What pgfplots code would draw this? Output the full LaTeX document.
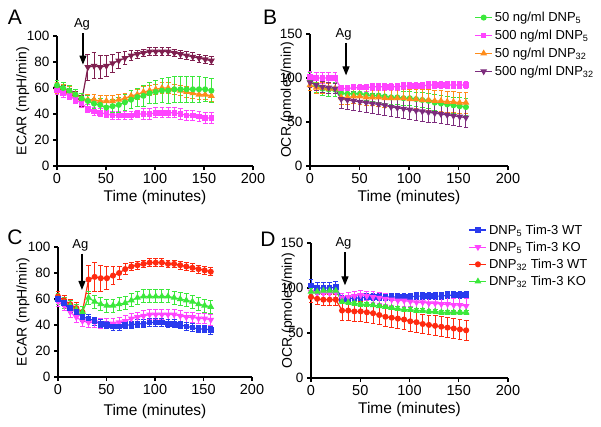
\documentclass[border=0pt]{standalone}
\usepackage{fontspec}
\setmainfont{Liberation Sans}
\usepackage{pgfplots}
\usepackage{pgfplotstable}
\pgfplotsset{compat=1.18}
\usetikzlibrary{arrows.meta}

\definecolor{cG}{HTML}{3BE83B}
\definecolor{cM}{HTML}{FF44FF}
\definecolor{cO}{HTML}{FF8C1A}
\definecolor{cW}{HTML}{7F1F4F}
\definecolor{cP}{HTML}{7D2C7D}
\definecolor{cB}{HTML}{2A3BEE}
\definecolor{cR}{HTML}{FF2A10}

\pgfplotstableread{
t g ge m me o oe p pe
0 62 4 58 3 60 4 60 4
6.3 60 4 56 3 59 4 58 4
12.6 58 4 54 3 57 4 56 4
18.9 55 4 51 3 55 4 53 4
25.2 52 4 48 3 52 4 50 4
31.5 50 4 44 3 51 4 76 10
37.8 48 4 42 3 51 4 77 10
44.1 47 5 41 3 50 4 76 9
50.4 45 5 40 3 50 4 77 8
56.7 46 5 39 3 50 4 79 7
63 47 6 39 3 51 4 81 6
69.3 49 6 39 3 52 4 83 5
75.6 51 7 39 3 54 4 85 4
81.9 53 7 40 3 55 4 86 3
88.2 54 8 40 4 57 4 87 3
94.5 56 8 40 4 58 4 88 3
100.8 57 9 41 4 59 4 88 3
107.1 58 9 41 4 60 4 88 3
113.4 58 10 41 4 60 4 88 3
119.7 59 10 41 4 59 4 87 3
126 59 10 40 4 58 4 86 3
132.3 59 10 39 4 57 4 85 3
138.6 59 10 39 4 56 4 84 3
144.9 59 10 38 4 55 4 83 3
151.2 59 9 37 4 55 4 82 3
157.5 58 9 37 4 54 4 81 3
}\tabA

\pgfplotstableread{
t g ge m me o oe p pe
0 98 8 101 6 92 6 95 6
6.3 92 8 100 6 89 6 92 6
12.6 88 8 100 6 89 6 90 6
18.9 87 8 100 6 88 6 89 6
25.2 87 8 100 6 88 6 88 6
31.5 83 7 88 4 78 8 76 11
37.8 82 7 88 4 78 8 75 11
44.1 82 7 89 4 79 8 74 11
50.4 82 7 89 4 79 9 73 11
56.7 81 7 89 4 78 9 72 11
63 80 7 90 4 78 9 71 11
69.3 80 8 90 4 78 10 70 11
75.6 79 8 90 4 77 10 69 11
81.9 78 8 90 4 77 10 67 11
88.2 78 8 90 4 77 11 66 11
94.5 77 8 91 4 77 11 65 11
100.8 77 8 91 4 76 11 64 11
107.1 76 8 91 4 76 11 63 11
113.4 75 9 91 4 75 12 62 11
119.7 74 9 92 4 75 12 61 11
126 72 9 92 4 74 12 60 11
132.3 71 9 92 4 74 12 59 11
138.6 70 9 92 4 73 12 58 11
144.9 69 9 92 4 73 12 57 11
151.2 68 10 92 4 72 12 56 11
157.5 67 10 92 4 72 12 55 11
}\tabB

\pgfplotstableread{
t b be m me r re g ge
0 60 3 58 4 62 4 60 4
6.3 57 3 55 4 59 4 57 4
12.6 53 3 50 4 56 4 55 4
18.9 50 3 46 4 53 4 52 4
25.2 46 3 43 4 50 4 50 4
31.5 45 3 42 4 75 11 61 5
37.8 43 3 42 4 77 11 58 5
44.1 41 3 41 4 76 10 56 5
50.4 40 3 41 4 76 9 55 5
56.7 39 3 41 4 78 7 55 5
63 39 3 42 4 80 5 56 5
69.3 40 3 43 4 83 4 57 5
75.6 40 3 45 4 85 3 59 5
81.9 41 3 46 4 86 3 61 5
88.2 41 3 47 4 87 3 62 5
94.5 42 3 48 4 88 3 62 5
100.8 42 3 48 4 88 3 62 5
107.1 42 3 48 4 88 3 62 5
113.4 41 3 48 4 87 3 62 5
119.7 41 3 48 4 87 3 61 5
126 40 3 47 4 86 3 60 5
132.3 39 3 46 4 85 3 59 5
138.6 38 3 46 4 84 3 58 5
144.9 37 3 45 4 83 3 56 5
151.2 37 3 45 4 82 3 55 5
157.5 36 3 44 4 81 3 54 5
}\tabC

\pgfplotstableread{
t b be m me r re g ge
0 103 6 96 6 90 6 96 3
6.3 100 6 94 6 88 6 96 3
12.6 100 6 94 6 87 6 97 3
18.9 100 6 94 6 87 6 97 3
25.2 101 6 95 6 87 6 97 3
31.5 88 4 89 5 75 11 85 2
37.8 88 4 90 5 75 11 84 2
44.1 89 4 91 5 74 11 83 2
50.4 89 4 92 5 74 11 82 2
56.7 90 4 91 5 73 11 82 2
63 90 4 90 6 72 11 81 2
69.3 90 4 89 6 70 11 80 2
75.6 90 4 88 6 68 11 79 2
81.9 90 4 87 6 67 11 78 2
88.2 90 4 86 6 66 11 77 2
94.5 90 4 86 6 65 11 76 2
100.8 90 4 85 6 63 11 76 2
107.1 91 4 84 7 62 11 75 2
113.4 91 4 84 7 60 11 75 2
119.7 91 4 83 7 59 11 74 2
126 91 4 83 7 58 11 74 2
132.3 91 4 82 7 57 11 73 2
138.6 92 4 82 7 56 11 73 2
144.9 92 4 81 7 55 11 73 2
151.2 92 4 81 8 54 11 73 2
157.5 92 4 80 8 53 11 73 2
}\tabD

\pgfplotsset{
  panel/.style={
    scale only axis, axis lines=left, enlargelimits=false, clip=false,
    axis line style={-, line width=1.7pt},
    tick align=outside, major tick length=4pt,
    every tick/.style={line width=1.3pt, black},
    xmin=0, xmax=200, xtick={0,50,100,150,200},
    yticklabel style={font=\fontsize{13.5}{15}\selectfont},
    xticklabel style={font=\fontsize{14.5}{16}\selectfont},
    xlabel style={font=\fontsize{15.5}{17}\selectfont},
    ylabel style={font=\fontsize{14}{16}\selectfont},
    /pgf/number format/assume math mode=true,
    xlabel={Time (minutes)},
    every axis plot/.append style={line width=1.2pt},
    error bars/error bar style={line width=0.9pt},
    error bars/error mark options={rotate=90, mark size=2.4pt, line width=0.9pt},
    legend style={draw=none, fill=none, font=\fontsize{13}{15}\selectfont, row sep=3pt,
      legend cell align=left, inner sep=1pt},
  },
  ebar/.style={error bars/.cd, y dir=both, y explicit},
}

\begin{document}
\begin{tikzpicture}
\path[use as bounding box] (0pt,0pt) rectangle (601pt,-426pt);

% Panel A
\begin{axis}[panel, at={(57pt,-166pt)}, anchor=south west, width=196pt, height=130pt,
  ymin=0, ymax=100, ytick={0,20,40,60,80,100},
  ylabel={ECAR (mpH/min)},
  ylabel style={at={(axis description cs:-0.175,0.5)}, anchor=center},
  xlabel style={at={(axis description cs:0.5,-0.245)}, anchor=center}]
\addplot[color=cW, mark=triangle*, mark options={rotate=180}, mark size=2.8pt, ebar] table[x=t,y=p,y error=pe]{\tabA};
\addplot[color=cO, mark=triangle*, mark size=2.8pt, ebar] table[x=t,y=o,y error=oe]{\tabA};
\addplot[color=cM, mark=square*, mark size=2.2pt, ebar] table[x=t,y=m,y error=me]{\tabA};
\addplot[color=cG, mark=*, mark size=2.4pt, ebar] table[x=t,y=g,y error=ge]{\tabA};
\draw[-{Triangle[length=9pt,width=7pt]}, line width=1.2pt] (axis cs:26.5,102) -- (axis cs:26.5,78);
\node[font=\fontsize{13}{15}\selectfont] at (axis cs:25.5,109) {Ag};
\end{axis}

% Panel B
\begin{axis}[panel, at={(310pt,-166pt)}, anchor=south west, width=198pt, height=132pt,
  ymin=0, ymax=150, ytick={0,50,100,150},
  ylabel={OCR (pmoles/min)},
  ylabel style={at={(axis description cs:-0.115,0.5)}, anchor=center},
  xlabel style={at={(axis description cs:0.5,-0.235)}, anchor=center},
  legend style={at={(axis description cs:0.825,1.19)}, anchor=north west}]
\addplot[color=cG, mark=*, mark size=2.4pt, ebar] table[x=t,y=g,y error=ge]{\tabB};
\addlegendentry{50 ng/ml DNP\textsubscript{5}}
\addplot[color=cM, mark=square*, mark size=2.2pt, ebar] table[x=t,y=m,y error=me]{\tabB};
\addlegendentry{500 ng/ml DNP\textsubscript{5}}
\addplot[color=cO, mark=triangle*, mark size=2.8pt, ebar] table[x=t,y=o,y error=oe]{\tabB};
\addlegendentry{50 ng/ml DNP\textsubscript{32}}
\addplot[color=cP, mark=triangle*, mark options={rotate=180}, mark size=2.8pt, ebar] table[x=t,y=p,y error=pe]{\tabB};
\addlegendentry{500 ng/ml DNP\textsubscript{32}}
\draw[-{Triangle[length=9pt,width=7pt]}, line width=1.2pt] (axis cs:36.4,140) -- (axis cs:36.4,103);
\node[font=\fontsize{13}{15}\selectfont] at (axis cs:34,150) {Ag};
\end{axis}

% Panel C
\begin{axis}[panel, at={(58pt,-377pt)}, anchor=south west, width=194pt, height=130pt,
  ymin=0, ymax=100, ytick={0,20,40,60,80,100},
  ylabel={ECAR (mpH/min)},
  ylabel style={at={(axis description cs:-0.18,0.5)}, anchor=center},
  xlabel style={at={(axis description cs:0.5,-0.265)}, anchor=center}]
\addplot[color=cR, mark=*, mark size=2.4pt, ebar] table[x=t,y=r,y error=re]{\tabC};
\addplot[color=cG, mark=triangle*, mark size=2.8pt, ebar] table[x=t,y=g,y error=ge]{\tabC};
\addplot[color=cM, mark=triangle*, mark options={rotate=180}, mark size=2.8pt, ebar] table[x=t,y=m,y error=me]{\tabC};
\addplot[color=cB, mark=square*, mark size=2.2pt, ebar] table[x=t,y=b,y error=be]{\tabC};
\draw[-{Triangle[length=9pt,width=7pt]}, line width=1.2pt] (axis cs:24.7,95) -- (axis cs:24.7,67);
\node[font=\fontsize{13}{15}\selectfont] at (axis cs:23,101) {Ag};
\end{axis}

% Panel D
\begin{axis}[panel, at={(311pt,-378pt)}, anchor=south west, width=197pt, height=135pt,
  ymin=0, ymax=150, ytick={0,50,100,150},
  ylabel={OCR (pmoles/min)},
  ylabel style={at={(axis description cs:-0.115,0.5)}, anchor=center},
  xlabel style={at={(axis description cs:0.5,-0.235)}, anchor=center},
  legend style={at={(axis description cs:0.795,1.16)}, anchor=north west, row sep=2.2pt}]
\addplot[color=cB, mark=square*, mark size=2.2pt, ebar] table[x=t,y=b,y error=be]{\tabD};
\addlegendentry{DNP\textsubscript{5} Tim-3 WT}
\addplot[color=cM, mark=triangle*, mark options={rotate=180}, mark size=2.8pt, ebar] table[x=t,y=m,y error=me]{\tabD};
\addlegendentry{DNP\textsubscript{5} Tim-3 KO}
\addplot[color=cR, mark=*, mark size=2.4pt, ebar] table[x=t,y=r,y error=re]{\tabD};
\addlegendentry{DNP\textsubscript{32} Tim-3 WT}
\addplot[color=cG, mark=triangle*, mark size=2.8pt, ebar] table[x=t,y=g,y error=ge]{\tabD};
\addlegendentry{DNP\textsubscript{32} Tim-3 KO}
\draw[-{Triangle[length=9pt,width=7pt]}, line width=1.2pt] (axis cs:34.5,140) -- (axis cs:34.5,103);
\node[font=\fontsize{13}{15}\selectfont] at (axis cs:33,150) {Ag};
\end{axis}

\node[font=\fontsize{21}{24}\selectfont] at (15pt,-17pt) {A};
\node[font=\fontsize{21}{24}\selectfont] at (270pt,-17pt) {B};
\node[font=\fontsize{21}{24}\selectfont] at (15pt,-237pt) {C};
\node[font=\fontsize{21}{24}\selectfont] at (268pt,-239pt) {D};
\end{tikzpicture}
\end{document}
